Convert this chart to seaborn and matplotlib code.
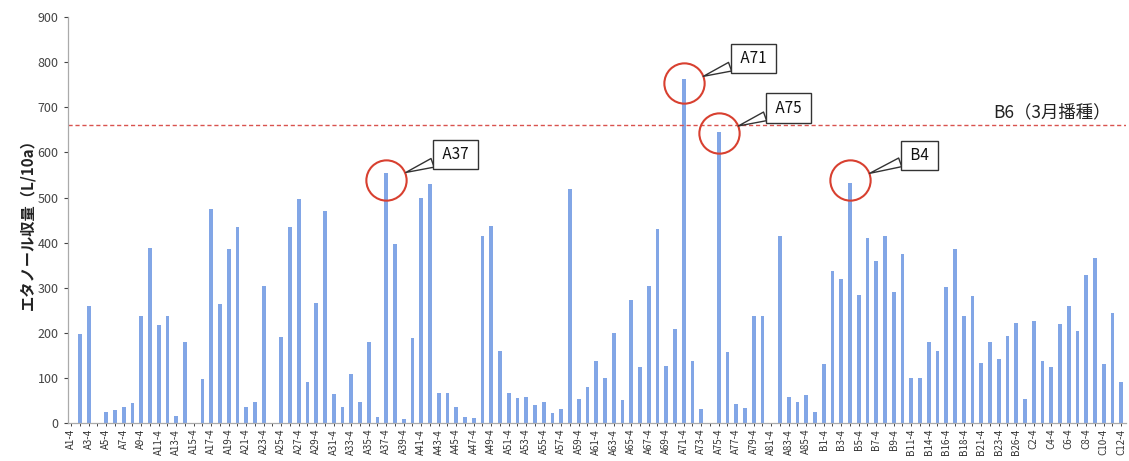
import matplotlib
matplotlib.use("Agg")
import matplotlib.pyplot as plt
import seaborn as sns
import pandas as pd

# ---- data ----
a_names = [f"A{i}-4" for i in range(1, 87)]
b_names = [f"B{i}-4" for i in [1, 2, 3, 4, 5, 6, 7, 8, 9, 10, 11, 12, 14, 15, 16, 17, 18, 20, 21, 22, 23, 25, 26]]
c_names = [f"C{i}-4" for i in range(1, 13)]
categories = a_names + b_names + c_names

a_values = [0, 197, 260, 0, 24, 29, 36, 44, 238, 389,
            217, 238, 16, 179, 0, 97, 474, 265, 385, 434,
            35, 47, 304, 0, 191, 434, 496, 92, 267, 470,
            64, 35, 110, 46, 179, 13, 555, 397, 9, 188,
            500, 530, 68, 66, 35, 14, 11, 415, 437, 160,
            68, 55, 57, 41, 46, 22, 31, 520, 53, 80,
            138, 101, 200, 52, 272, 125, 304, 430, 127, 208,
            763, 137, 31, 0, 645, 157, 42, 33, 238, 238,
            0, 415, 57, 46, 62, 24]
b_values = [132, 338, 319, 533, 284, 411, 360, 415, 290, 374,
            100, 100, 179, 159, 302, 386, 238, 282, 134, 180,
            142, 193, 223]
c_values = [53, 227, 137, 125, 219, 260, 205, 328, 365, 132, 245, 92]
values = a_values + b_values + c_values

yticks = list(range(0, 901, 100))
ylabel = "エタノール収量（L/10a）"
ref_value = 660
ref_label = "B6（3月播種）"
highlights = ["A37-4", "A71-4", "A75-4", "B4-4"]
highlight_labels = ["A37", "A71", "A75", "B4"]
circle_values = [540, 753, 643, 538]

df = pd.DataFrame({"cat": categories, "val": values})

sns.set_theme(style="white")
plt.rcParams["font.family"] = ["Noto Sans CJK JP", "DejaVu Sans"]

fig = plt.figure(figsize=(11.29, 4.61), dpi=100)
ax = fig.add_axes([0.060, 0.082, 0.937, 0.881])

sns.barplot(data=df, x="cat", y="val", order=categories, color="#82A6E6",
            width=0.45, saturation=1, ax=ax, edgecolor="none")

ax.set_ylim(0, 900)
ax.set_yticks(yticks)
ax.set_xlim(-0.4, len(categories) - 0.5)
ax.set_xticks(range(len(categories)))
ax.set_xticklabels([c if i % 2 == 0 else "" for i, c in enumerate(categories)],
                   rotation=90, fontsize=7, color="#333333")
ax.tick_params(axis="y", labelsize=9, colors="#444444", length=3, width=0.8, direction="out", left=True)
ax.tick_params(axis="x", length=2, width=0.6, bottom=True, pad=2)
ax.set_xlabel("")
ax.set_ylabel(ylabel, fontsize=11, fontweight="bold", color="#222222", labelpad=2)

for s in ["top", "right"]:
    ax.spines[s].set_visible(False)
for s in ["left", "bottom"]:
    ax.spines[s].set_color("#aaaaaa")
    ax.spines[s].set_linewidth(0.9)

ax.axhline(ref_value, color="#d9534f", linestyle=(0, (3, 2)), linewidth=1)
ax.text(118.8, ref_value + 10, ref_label, ha="right", va="bottom",
        fontsize=12.5, color="#222222")

for name, lab, cv in zip(highlights, highlight_labels, circle_values):
    xi = categories.index(name)
    ax.plot([xi], [cv], marker="o", markersize=29, markerfacecolor="none",
            markeredgecolor="#d84030", markeredgewidth=1.5, zorder=5)
    ax.annotate(f" {lab} ", xy=(xi, cv), xycoords="data",
                xytext=(50, 18), textcoords="offset points",
                ha="center", va="center", fontsize=11, color="#111111",
                bbox=dict(boxstyle="square,pad=0.4", fc="white", ec="#333333", lw=1),
                arrowprops=dict(arrowstyle="wedge,tail_width=0.6,shrink_factor=0.5",
                                fc="white", ec="#333333", lw=1,
                                shrinkA=0, shrinkB=15),
                zorder=6)

fig.savefig("out.png", dpi=100)
